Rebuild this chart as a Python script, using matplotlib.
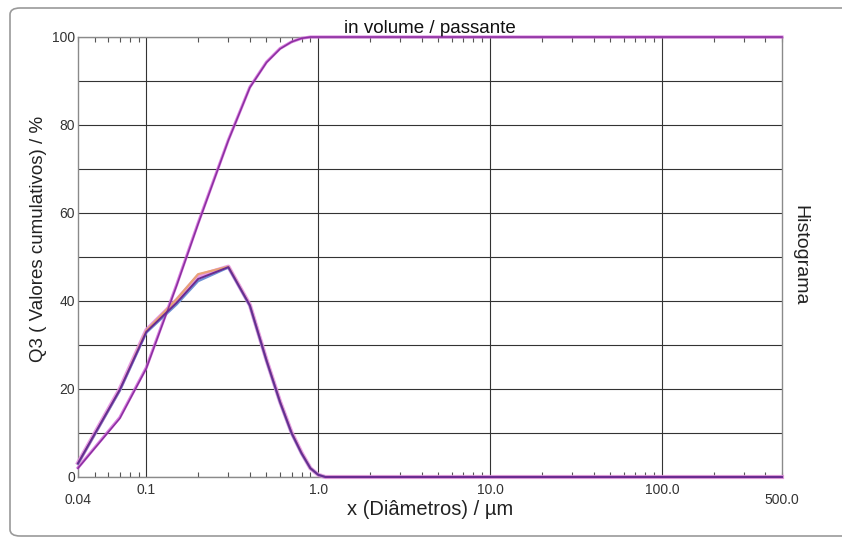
import matplotlib
matplotlib.use("Agg")
import matplotlib.pyplot as plt
from matplotlib.patches import FancyBboxPatch
from matplotlib.ticker import LogLocator, NullFormatter, MultipleLocator

plt.rcParams['font.family'] = ['Liberation Sans', 'DejaVu Sans']

# ---- data ----
diameters = [0.04, 0.07, 0.1, 0.15, 0.2, 0.3, 0.4, 0.5, 0.6, 0.7, 0.8, 0.9, 1.0, 1.1, 500.0]

cum_purple  = [2.0, 13.3, 24.7, 43.5, 57.5, 76.5, 88.5, 94.2, 97.3, 98.9, 99.7, 100.0, 100.0, 100.0, 100.0]
cum_magenta = [2.1, 13.5, 24.9, 43.7, 57.7, 76.6, 88.6, 94.3, 97.4, 98.9, 99.7, 100.0, 100.0, 100.0, 100.0]

hist_purple  = [3.1, 19.8, 33.0, 39.6, 45.0, 47.7, 39.0, 26.5, 17.0, 10.0, 5.4, 2.0, 0.5, 0.0, 0.0]
hist_pink    = [3.2, 20.0, 33.4, 40.2, 45.7, 47.8, 39.1, 26.6, 17.1, 10.1, 5.5, 2.0, 0.5, 0.0, 0.0]
hist_orange  = [3.0, 19.7, 33.3, 40.4, 46.1, 47.8, 39.0, 26.5, 17.0, 10.0, 5.4, 2.0, 0.5, 0.0, 0.0]
hist_blue    = [3.0, 19.6, 32.8, 39.2, 44.5, 47.6, 38.9, 26.4, 16.9, 9.9, 5.3, 2.0, 0.5, 0.0, 0.0]

x_major_ticks = [0.1, 1.0, 10.0, 100.0]
x_major_labels = ['0.1', '1.0', '10.0', '100.0']
x_end_ticks = [0.04, 500.0]
x_end_labels = ['0.04', '500.0']
y_ticks = [0, 20, 40, 60, 80, 100]

# ---- figure ----
fig = plt.figure(figsize=(8.42, 5.44), dpi=100)
frame = FancyBboxPatch((10 / 842, 8 / 544), 850 / 842, 528 / 544,
                       boxstyle="round,pad=0,rounding_size=0.012",
                       transform=fig.transFigure, facecolor='none',
                       edgecolor='#9a9a9a', linewidth=1.2, zorder=-1)
fig.patches.append(frame)

ax = fig.add_axes([78 / 842, 1 - 477 / 544, 704 / 842, 440 / 544])
ax.set_xscale('log')
ax.set_xlim(0.04, 500)
ax.set_ylim(0, 100)
ax.set_facecolor('none')

# grid
ax.set_yticks(y_ticks)
ax.set_yticklabels([str(v) for v in y_ticks])
ax.yaxis.set_minor_locator(MultipleLocator(10))
ax.grid(True, which='major', axis='x', color='#333333', linewidth=0.8)
ax.grid(True, which='both', axis='y', color='#333333', linewidth=0.8)

ax.set_xticks(x_major_ticks)
ax.set_xticklabels(x_major_labels)
ax.xaxis.set_minor_locator(LogLocator(base=10, subs=range(2, 10), numticks=20))
ax.xaxis.set_minor_formatter(NullFormatter())
ax.tick_params(axis='x', which='major', length=0, pad=4, labelsize=10, labelcolor='#333333')
ax.tick_params(axis='x', which='minor', direction='in', length=3.5, top=True, bottom=True,
               width=0.8, color='#555555')
ax.tick_params(axis='y', which='both', length=0, pad=2, labelsize=10, labelcolor='#333333')

for x, lab in zip(x_end_ticks, x_end_labels):
    ax.text(x, -0.036, lab, transform=ax.get_xaxis_transform(), ha='center', va='top',
            fontsize=10, color='#333333')

for s in ax.spines.values():
    s.set_color('#8a8a8a')
    s.set_linewidth(1.0)

# curves
ax.plot(diameters, cum_magenta, color='#d060d8', linewidth=2.2, alpha=0.8, clip_on=False, zorder=3)
ax.plot(diameters, cum_purple, color='#8a2fa0', linewidth=1.1, clip_on=False, zorder=4)

ax.plot(diameters, hist_pink, color='#e48ae0', linewidth=3.0, alpha=0.85, clip_on=False, zorder=3)
ax.plot(diameters, hist_orange, color='#e8a276', linewidth=1.6, clip_on=False, zorder=3)
ax.plot(diameters, hist_blue, color='#6f8fd4', linewidth=1.6, clip_on=False, zorder=3)
ax.plot(diameters, hist_purple, color='#6a2a90', linewidth=1.4, clip_on=False, zorder=4)

# texts
ax.set_title('in volume / passante', fontsize=13.5, pad=3, color='#111111')
ax.set_xlabel('x (Diâmetros) / µm', fontsize=14.5, color='#222222')
ax.xaxis.set_label_coords(0.5, -0.052)
ax.set_ylabel('Q3 ( Valores cumulativos) / %', fontsize=13.5, color='#222222')
ax.yaxis.set_label_coords(-0.044, 0.54)
ax.text(1.026, 0.505, 'Histograma', transform=ax.transAxes, rotation=-90,
        ha='center', va='center', fontsize=14, color='#222222')

fig.savefig('out.png', dpi=100)
